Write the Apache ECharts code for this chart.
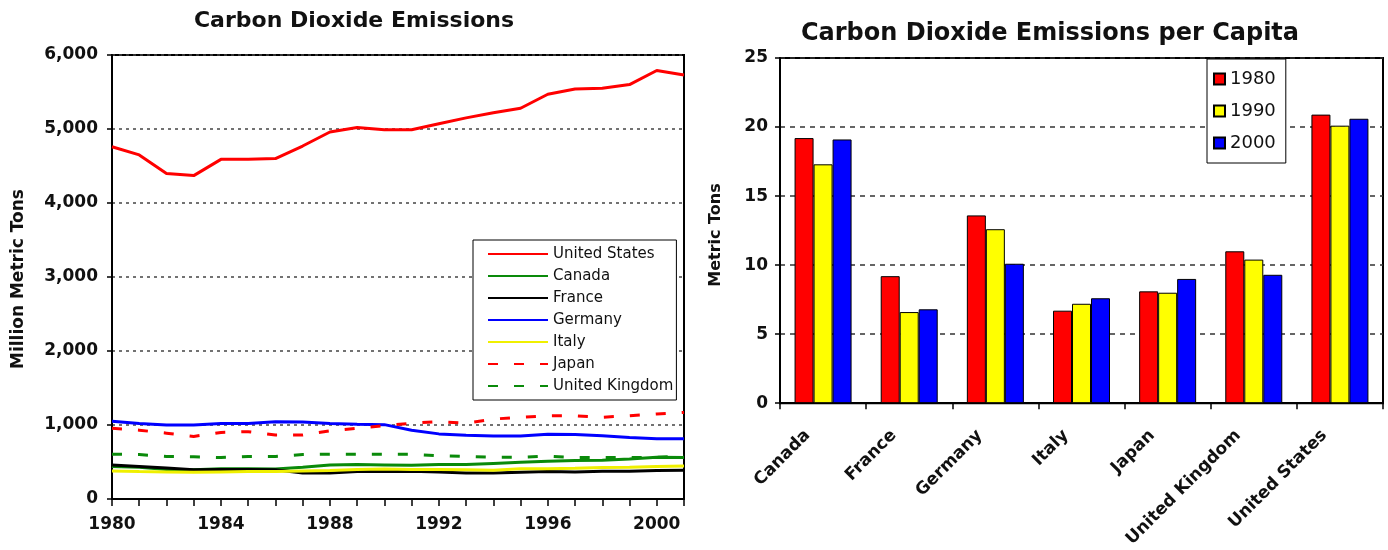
<!DOCTYPE html>
<html>
<head>
<meta charset="utf-8">
<script src="https://cdn.jsdelivr.net/npm/echarts@6/dist/echarts.min.js"></script>
<style>
html,body{margin:0;padding:0;background:#fff;}
#chart{width:1388px;height:550px;}
</style>
</head>
<body>
<div id="chart"></div>
<script>
// ---- Left chart data (million metric tons) ----
const years = ['1980','1981','1982','1983','1984','1985','1986','1987','1988','1989','1990','1991','1992','1993','1994','1995','1996','1997','1998','1999','2000','2001'];
const unitedStates = [4760,4650,4400,4370,4590,4590,4600,4770,4960,5020,4990,4990,5070,5150,5220,5280,5470,5540,5550,5600,5790,5730];
const canada       = [440,430,400,395,410,410,405,430,460,465,460,455,465,465,480,495,510,520,525,540,565,560];
const france       = [460,440,420,395,400,400,395,350,350,370,370,375,365,350,350,360,370,365,375,375,385,390];
const germany      = [1050,1020,1000,1000,1020,1020,1045,1040,1020,1010,1005,930,880,860,850,850,875,870,855,830,815,815];
const italy        = [380,370,365,360,365,370,370,380,385,400,405,400,400,395,390,410,410,415,425,430,440,445];
const japan        = [955,930,890,845,900,910,865,865,920,955,990,1025,1045,1025,1080,1105,1125,1125,1105,1125,1150,1170];
const unitedKingdom= [605,600,575,570,560,575,575,600,605,605,605,605,585,575,565,565,580,560,560,560,565,580];

// ---- Right chart data (metric tons per capita) ----
const countries = ['Canada','France','Germany','Italy','Japan','United Kingdom','United States'];
const perCapita1980 = [19.2,9.2,13.6,6.7,8.1,11.0,20.9];
const perCapita1990 = [17.3,6.6,12.6,7.2,8.0,10.4,20.1];
const perCapita2000 = [19.1,6.8,10.1,7.6,9.0,9.3,20.6];

const FONT = 'DejaVu Sans';
const chart = echarts.init(document.getElementById('chart'));

function lineSeries(name, data, color, dashed) {
  return {
    name: name, type: 'line', data: data,
    xAxisIndex: 0, yAxisIndex: 0,
    symbol: 'none', smooth: false,
    lineStyle: { color: color, width: 3, type: dashed ? [10, 16] : 'solid' },
    itemStyle: { color: color },
    emphasis: { disabled: true }
  };
}
function barSeries(name, data, color) {
  return {
    name: name, type: 'bar', data: data,
    xAxisIndex: 1, yAxisIndex: 1,
    barWidth: 19, barGap: '0%',
    itemStyle: { color: color, borderColor: '#000', borderWidth: 1 },
    emphasis: { disabled: true }
  };
}

chart.setOption({
  animation: false,
  backgroundColor: '#fff',
  title: [
    { text: 'Carbon Dioxide Emissions', left: 349, top: 5, textAlign: 'center',
      textStyle: { fontFamily: FONT, fontWeight: 'bold', fontSize: 22, color: '#111' } },
    { text: 'Carbon Dioxide Emissions per Capita', left: 1045, top: 17, textAlign: 'center',
      textStyle: { fontFamily: FONT, fontWeight: 'bold', fontSize: 24, color: '#111' } }
  ],
  graphic: [
    { type: 'text', x: 19, y: 279, rotation: Math.PI / 2,
      style: { text: 'Million Metric Tons', align: 'center', verticalAlign: 'middle',
               font: 'bold 17px "DejaVu Sans"', fill: '#111' } },
    { type: 'text', x: 716, y: 235, rotation: Math.PI / 2,
      style: { text: 'Metric Tons', align: 'center', verticalAlign: 'middle',
               font: 'bold 16px "DejaVu Sans"', fill: '#111' } }
  ],
  legend: [
    { data: ['United States','Canada','France','Germany','Italy','Japan','United Kingdom'],
      orient: 'vertical', left: 473, top: 240,
      itemWidth: 60, itemHeight: 2, itemGap: 6,
      itemStyle: { opacity: 0 },
      padding: [6, 3, 6, 14],
      backgroundColor: '#fff', borderColor: '#000', borderWidth: 1, borderRadius: 0,
      selectedMode: false,
      textStyle: { fontFamily: FONT, fontSize: 15, color: '#111', lineHeight: 16 } },
    { data: ['1980','1990','2000'],
      orient: 'vertical', left: 1207, top: 59,
      icon: 'rect', itemWidth: 11, itemHeight: 11, itemGap: 12,
      padding: [10, 10, 10, 6],
      backgroundColor: '#fff', borderColor: '#000', borderWidth: 1, borderRadius: 0,
      selectedMode: false,
      textStyle: { fontFamily: FONT, fontSize: 18, color: '#111', lineHeight: 20 } }
  ],
  grid: [
    { left: 112, top: 55, width: 572, height: 444, show: true, borderColor: '#000', borderWidth: 2, backgroundColor: '#fff' },
    { left: 780, top: 58, width: 603, height: 348, show: true, borderColor: '#000', borderWidth: 2, backgroundColor: '#fff' }
  ],
  xAxis: [
    { type: 'category', gridIndex: 0, data: years, boundaryGap: false,
      axisLine: { lineStyle: { color: '#000', width: 2 } },
      axisTick: { show: true, interval: 0, length: 7, lineStyle: { color: '#000', width: 1.5 } },
      axisLabel: { interval: 3, margin: 17, fontFamily: FONT, fontWeight: 'bold', fontSize: 17, color: '#111' },
      splitLine: { show: false } },
    { type: 'category', gridIndex: 1, data: countries, boundaryGap: true,
      axisLine: { lineStyle: { color: '#000', width: 2 } },
      axisTick: { show: true, length: 6, lineStyle: { color: '#000', width: 1.5 } },
      axisLabel: { rotate: 45, margin: 14, padding: [0, 22, 0, 0], fontFamily: FONT, fontWeight: 'bold', fontSize: 17, color: '#111' },
      splitLine: { show: false } }
  ],
  yAxis: [
    { type: 'value', gridIndex: 0, min: 0, max: 6000, interval: 1000,
      axisLine: { show: true, lineStyle: { color: '#000', width: 2 } },
      axisTick: { show: true, length: 5, lineStyle: { color: '#000', width: 1.5 } },
      axisLabel: { margin: 14, fontFamily: FONT, fontWeight: 'bold', fontSize: 17, color: '#111',
                   formatter: v => v.toLocaleString('en-US') },
      splitLine: { show: true, lineStyle: { color: '#444', width: 1.5, type: [3, 4] } } },
    { type: 'value', gridIndex: 1, min: 0, max: 25, interval: 5,
      axisLine: { show: true, lineStyle: { color: '#000', width: 2 } },
      axisTick: { show: true, length: 5, lineStyle: { color: '#000', width: 1.5 } },
      axisLabel: { margin: 12, fontFamily: FONT, fontWeight: 'bold', fontSize: 17, color: '#111' },
      splitLine: { show: true, lineStyle: { color: '#333', width: 1.5, type: [5, 5] } } }
  ],
  series: [
    lineSeries('United States', unitedStates, '#ff0000', false),
    lineSeries('Canada', canada, '#0a8a0a', false),
    lineSeries('France', france, '#000000', false),
    lineSeries('Germany', germany, '#0000ff', false),
    lineSeries('Italy', italy, '#f0f000', false),
    lineSeries('Japan', japan, '#ff0000', true),
    lineSeries('United Kingdom', unitedKingdom, '#0a8a0a', true),
    barSeries('1980', perCapita1980, '#ff0000'),
    barSeries('1990', perCapita1990, '#ffff00'),
    barSeries('2000', perCapita2000, '#0000ff')
  ]
});
</script>
</body>
</html>
